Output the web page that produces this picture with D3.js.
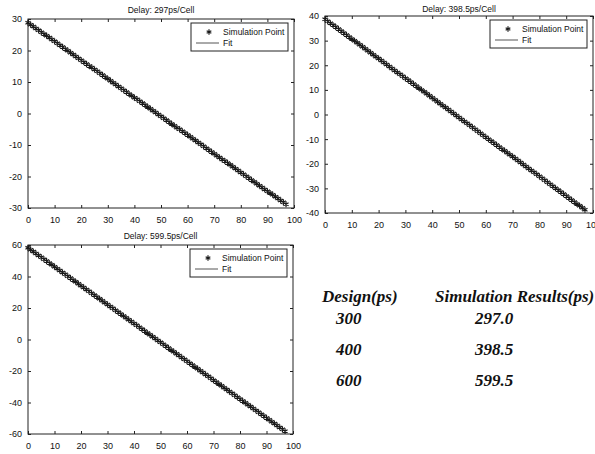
<!DOCTYPE html>
<html>
<head>
<meta charset="utf-8">
<script src="https://cdn.jsdelivr.net/npm/d3@7"></script>
<style>
  body { margin: 0; background: #fff; }
  svg { display: block; }
  .tick text { font-family: "Liberation Sans", Arial, sans-serif; font-size: 9px; fill: #111; }
  .tick line { stroke: #222; }
  .title { font-family: "Liberation Sans", Arial, sans-serif; font-size: 8.5px; fill: #111; }
  .legendText { font-family: "Liberation Sans", Arial, sans-serif; font-size: 8.5px; fill: #111; }
  .tableText { font-family: "Liberation Serif", "Times New Roman", serif; font-size: 17px; font-style: italic; font-weight: bold; fill: #111; }
</style>
</head>
<body>
<div id="chart"></div>
<script>
// set up the svg
var svgWidth = 595;
var svgHeight = 454;

// panel titles
var titles = ["Delay: 297ps/Cell", "Delay: 398.5ps/Cell", "Delay: 599.5ps/Cell"];

// simulation points, one value per cell (cell index = position in array)
var delay297 = [28.8, 28.2, 27.6, 27.0, 26.4, 25.8, 25.2, 24.7, 24.1, 23.5,
    22.9, 22.3, 21.7, 21.1, 20.5, 19.9, 19.3, 18.7, 18.1, 17.5,
    16.9, 16.3, 15.7, 15.1, 14.6, 14.0, 13.4, 12.8, 12.2, 11.6,
    11.0, 10.4, 9.8, 9.2, 8.6, 8.0, 7.4, 6.8, 6.2, 5.6,
    5.0, 4.5, 3.9, 3.3, 2.7, 2.1, 1.5, 0.9, 0.3, -0.3,
    -0.9, -1.5, -2.1, -2.7, -3.3, -3.9, -4.5, -5.0, -5.6, -6.2,
    -6.8, -7.4, -8.0, -8.6, -9.2, -9.8, -10.4, -11.0, -11.6, -12.2,
    -12.8, -13.4, -14.0, -14.6, -15.1, -15.7, -16.3, -16.9, -17.5, -18.1,
    -18.7, -19.3, -19.9, -20.5, -21.1, -21.7, -22.3, -22.9, -23.5, -24.1,
    -24.7, -25.2, -25.8, -26.4, -27.0, -27.6, -28.2, -28.8];

var delay398 = [38.7, 37.9, 37.1, 36.3, 35.5, 34.7, 33.9, 33.1, 32.3, 31.5,
    30.7, 29.9, 29.1, 28.3, 27.5, 26.7, 25.9, 25.1, 24.3, 23.5,
    22.7, 21.9, 21.1, 20.3, 19.5, 18.7, 17.9, 17.1, 16.3, 15.5,
    14.7, 14.0, 13.2, 12.4, 11.6, 10.8, 10.0, 9.2, 8.4, 7.6,
    6.8, 6.0, 5.2, 4.4, 3.6, 2.8, 2.0, 1.2, 0.4, -0.4,
    -1.2, -2.0, -2.8, -3.6, -4.4, -5.2, -6.0, -6.8, -7.6, -8.4,
    -9.2, -10.0, -10.8, -11.6, -12.4, -13.2, -14.0, -14.7, -15.5, -16.3,
    -17.1, -17.9, -18.7, -19.5, -20.3, -21.1, -21.9, -22.7, -23.5, -24.3,
    -25.1, -25.9, -26.7, -27.5, -28.3, -29.1, -29.9, -30.7, -31.5, -32.3,
    -33.1, -33.9, -34.7, -35.5, -36.3, -37.1, -37.9, -38.7];

var delay599 = [58.2, 57.0, 55.8, 54.6, 53.4, 52.2, 51.0, 49.8, 48.6, 47.4,
    46.2, 45.0, 43.8, 42.6, 41.4, 40.2, 39.0, 37.8, 36.6, 35.4,
    34.2, 33.0, 31.8, 30.6, 29.4, 28.2, 27.0, 25.8, 24.6, 23.4,
    22.2, 21.0, 19.8, 18.6, 17.4, 16.2, 15.0, 13.8, 12.6, 11.4,
    10.2, 9.0, 7.8, 6.6, 5.4, 4.2, 3.0, 1.8, 0.6, -0.6,
    -1.8, -3.0, -4.2, -5.4, -6.6, -7.8, -9.0, -10.2, -11.4, -12.6,
    -13.8, -15.0, -16.2, -17.4, -18.6, -19.8, -21.0, -22.2, -23.4, -24.6,
    -25.8, -27.0, -28.2, -29.4, -30.6, -31.8, -33.0, -34.2, -35.4, -36.6,
    -37.8, -39.0, -40.2, -41.4, -42.6, -43.8, -45.0, -46.2, -47.4, -48.6,
    -49.8, -51.0, -52.2, -53.4, -54.6, -55.8, -57.0, -58.2];

// y axis limits and tick values of each panel
var yLimits = [30, 40, 60];
var yTicks = [
    [-30, -20, -10, 0, 10, 20, 30],
    [-40, -30, -20, -10, 0, 10, 20, 30, 40],
    [-60, -40, -20, 0, 20, 40, 60]
];
var xTicks = [0, 10, 20, 30, 40, 50, 60, 70, 80, 90, 100];

var legendLabels = ["Simulation Point", "Fit"];

// results table
var tableHeader = ["Design(ps)", "Simulation Results(ps)"];
var designValues = ["300", "400", "600"];
var resultValues = ["297.0", "398.5", "599.5"];

// panel boxes in pixels
var panels = [
    {left: 28, top: 19, right: 294, bottom: 208, titleGap: 6},
    {left: 325, top: 16, right: 593, bottom: 213, titleGap: 4},
    {left: 28, top: 245, right: 293, bottom: 434, titleGap: 6}
];

var series = [delay297, delay398, delay599];

// plain hyphen minus like the original plot
var tickFmt = d => String(d);

var svg = d3
    .select("#chart")
    .append("svg")
    .attr("width", svgWidth)
    .attr("height", svgHeight);

function drawPanel(i) {
    var p = panels[i];
    var values = series[i];
    var width = p.right - p.left;
    var height = p.bottom - p.top;

    var g = svg.append("g")
        .attr("transform", `translate(${p.left}, ${p.top})`);

    var xScale = d3.scaleLinear().domain([0, 100]).range([0, width]);
    var yScale = d3.scaleLinear().domain([-yLimits[i], yLimits[i]]).range([height, 0]);

    // inward ticks on all four sides, labels only left and bottom
    g.append("g")
        .attr("transform", `translate(0, ${height})`)
        .call(d3.axisBottom(xScale).tickValues(xTicks).tickFormat(tickFmt).tickSizeInner(-3).tickSizeOuter(0).tickPadding(9))
        .call(a => a.select(".domain").remove());
    g.append("g")
        .call(d3.axisTop(xScale).tickValues(xTicks).tickSizeInner(-3).tickSizeOuter(0).tickFormat(""))
        .call(a => a.select(".domain").remove());
    g.append("g")
        .call(d3.axisLeft(yScale).tickValues(yTicks[i]).tickFormat(tickFmt).tickSizeInner(-3).tickSizeOuter(0).tickPadding(6))
        .call(a => a.select(".domain").remove());
    g.append("g")
        .attr("transform", `translate(${width}, 0)`)
        .call(d3.axisRight(yScale).tickValues(yTicks[i]).tickSizeInner(-3).tickSizeOuter(0).tickFormat(""))
        .call(a => a.select(".domain").remove());

    g.append("rect")
        .attr("width", width)
        .attr("height", height)
        .attr("fill", "none")
        .attr("stroke", "#222")
        .attr("stroke-width", 1);

    // fit line
    var line = d3.line()
        .x((d, j) => xScale(j))
        .y(d => yScale(d));
    g.append("path")
        .datum(values)
        .attr("d", line)
        .attr("fill", "none")
        .attr("stroke", "#555")
        .attr("stroke-width", 1);

    // simulation points
    var marker = d3.symbol().type(d3.symbolAsterisk).size(24);
    g.append("g").selectAll("path")
        .data(values)
        .enter()
        .append("path")
        .attr("d", marker)
        .attr("transform", (d, j) => `translate(${xScale(j)}, ${yScale(d)})`)
        .attr("fill", "none")
        .attr("stroke", "#1a1a1a")
        .attr("stroke-width", 1.2);

    // title
    g.append("text")
        .classed("title", true)
        .attr("x", width / 2)
        .attr("y", -p.titleGap)
        .attr("text-anchor", "middle")
        .text(titles[i]);

    // legend
    var legW = 97, legH = 28;
    var legend = g.append("g")
        .attr("transform", `translate(${width - legW - 6}, 4)`);
    legend.append("rect")
        .attr("width", legW)
        .attr("height", legH)
        .attr("fill", "#fff")
        .attr("stroke", "#222");
    legend.append("path")
        .attr("d", d3.symbol().type(d3.symbolAsterisk).size(20))
        .attr("transform", "translate(18, 9)")
        .attr("stroke", "#1a1a1a")
        .attr("stroke-width", 1.2)
        .attr("fill", "none");
    legend.append("line")
        .attr("x1", 5)
        .attr("x2", 28)
        .attr("y1", 20)
        .attr("y2", 20)
        .attr("stroke", "#555");
    legend.selectAll("text")
        .data(legendLabels)
        .enter()
        .append("text")
        .classed("legendText", true)
        .attr("x", 32)
        .attr("y", (d, j) => 9 + j * 11)
        .attr("dy", "0.35em")
        .text(d => d);
}

panels.forEach((p, i) => drawPanel(i));

// results table
var table = svg.append("g");
var tableX = [322, 435];
table.selectAll(".header")
    .data(tableHeader)
    .enter()
    .append("text")
    .classed("tableText", true)
    .attr("x", (d, i) => tableX[i])
    .attr("y", 302)
    .text(d => d);

var rowY = [324, 355, 386];
table.selectAll(".design")
    .data(designValues)
    .enter()
    .append("text")
    .classed("tableText", true)
    .attr("x", 336)
    .attr("y", (d, i) => rowY[i])
    .text(d => d);

table.selectAll(".result")
    .data(resultValues)
    .enter()
    .append("text")
    .classed("tableText", true)
    .attr("x", 475)
    .attr("y", (d, i) => rowY[i])
    .text(d => d);
</script>
</body>
</html>
